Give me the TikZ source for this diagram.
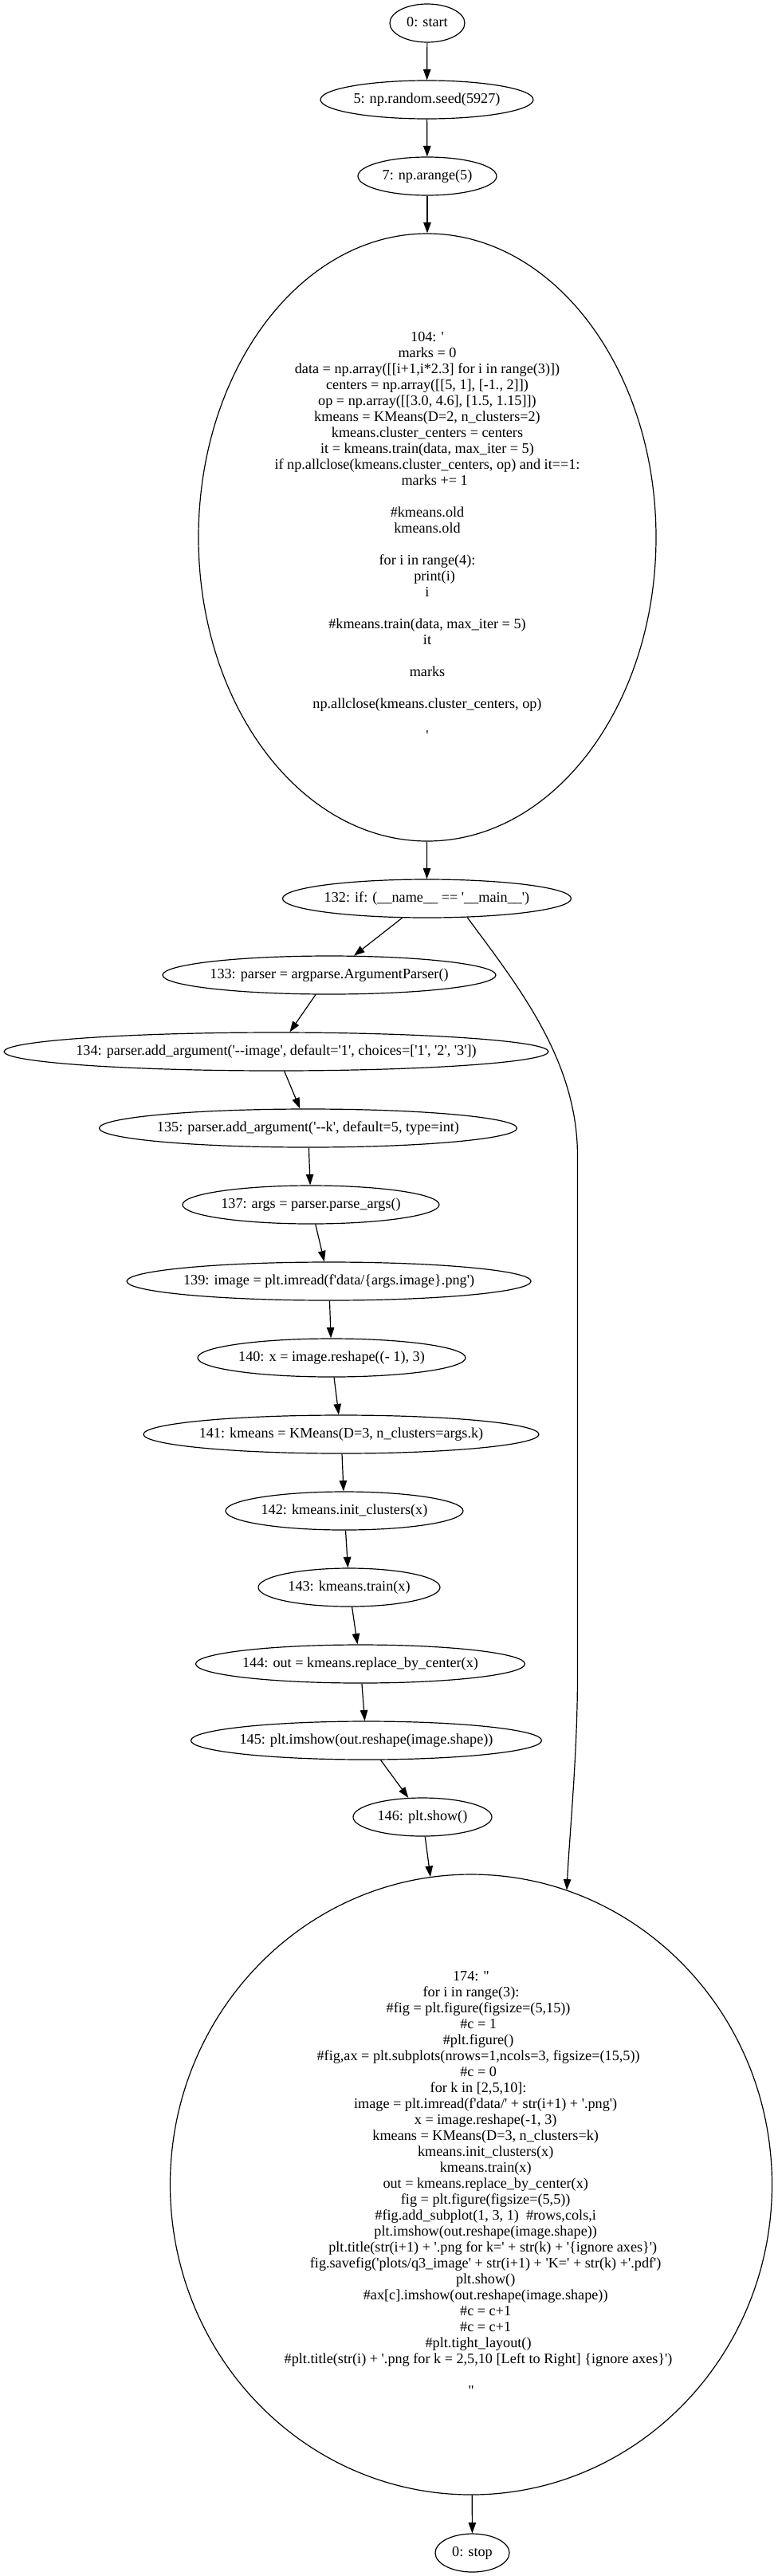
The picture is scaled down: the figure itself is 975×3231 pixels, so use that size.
\documentclass[tikz,border=0pt]{standalone}
\usepackage{fontspec}
\setmainfont{Liberation Serif}[Ligatures=TeXOff]
\usetikzlibrary{shapes.geometric,arrows.meta}
\newcommand\gvfont{\fontsize{18.2pt}{20pt}\selectfont}
\newcommand\zw[1]{\makebox[0pt]{\strut#1}}
\newcommand\sps{\hspace*{18.2pt}}
\newcommand\spsb{\hspace*{36.4pt}}
\newcommand\spsc{\hspace*{54.6pt}}
\tikzset{
  gv/.style={ellipse, draw, line width=1.2pt, inner sep=0pt, font=\gvfont, minimum height=48pt},
  gvedge/.style={line width=1.2pt, -{Triangle[length=13.5pt,width=9.5pt]}},
}
\begin{document}
\begin{tikzpicture}[x=1pt,y=-1pt]
\useasboundingbox (0,0) rectangle (975,3231);
\fill[white] (0,0) rectangle (975,3231);

\node[gv, minimum width=94pt] (start) at (536,29) {\zw{0: start}};
\node[gv, minimum width=267pt] (n5) at (535.5,125) {\zw{5: np.random.seed(5927)}};
\node[gv, minimum width=174pt] (n7) at (536,221) {\zw{7: np.arange(5)}};
\node[gv, minimum width=574pt, minimum height=762pt] (n104) at (536,674) {\begin{tabular}{@{}c@{}}
104: '\\
marks = 0\\
data = np.array([[i+1,i*2.3] for i in range(3)])\\
centers = np.array([[5, 1], [-1., 2]])\\
op = np.array([[3.0, 4.6], [1.5, 1.15]])\\
kmeans = KMeans(D=2, n\_clusters=2)\\
kmeans.cluster\_centers = centers\\
it = kmeans.train(data, max\_iter = 5)\\
if np.allclose(kmeans.cluster\_centers, op) and it==1:\\
\sps marks += 1\\
\\
\#kmeans.old\\
kmeans.old\\
\\
for i in range(4):\\
\sps print(i)\\
i\\
\\
\#kmeans.train(data, max\_iter = 5)\\
it\\
\\
marks\\
\\
np.allclose(kmeans.cluster\_centers, op)\\
\\
'
\end{tabular}};
\node[gv, minimum width=362pt] (n132) at (535.5,1127) {\zw{132: if: (\_\_name\_\_ == '\_\_main\_\_')}};
\node[gv, minimum width=418pt] (n133) at (413,1223) {\zw{133: parser = argparse.ArgumentParser()}};
\node[gv, minimum width=683pt] (n134) at (346.5,1319) {\zw{134: parser.add\_argument('--image', default='1', choices=['1', '2', '3'])}};
\node[gv, minimum width=524pt] (n135) at (386.5,1415) {\zw{135: parser.add\_argument('--k', default=5, type=int)}};
\node[gv, minimum width=322pt] (n137) at (390,1511) {\zw{137: args = parser.parse\_args()}};
\node[gv, minimum width=507pt] (n139) at (412.6,1607) {\zw{139: image = plt.imread(f'data/\{args.image\}.png')}};
\node[gv, minimum width=336pt] (n140) at (416,1703) {\zw{140: x = image.reshape((- 1), 3)}};
\node[gv, minimum width=496pt] (n141) at (428,1799) {\zw{141: kmeans = KMeans(D=3, n\_clusters=args.k)}};
\node[gv, minimum width=298pt] (n142) at (432,1895) {\zw{142: kmeans.init\_clusters(x)}};
\node[gv, minimum width=228pt] (n143) at (438,1991) {\zw{143: kmeans.train(x)}};
\node[gv, minimum width=413pt] (n144) at (452,2087) {\zw{144: out = kmeans.replace\_by\_center(x)}};
\node[gv, minimum width=440pt] (n145) at (459.5,2183) {\zw{145: plt.imshow(out.reshape(image.shape))}};
\node[gv, minimum width=174pt] (n146) at (530,2279) {\zw{146: plt.show()}};
\node[gv, minimum width=755pt, minimum height=778pt] (n174) at (591,2740) {\begin{tabular}{@{}c@{}}
174: "\\
for i in range(3):\\
\sps\#fig = plt.figure(figsize=(5,15))\\
\sps\#c = 1\\
\sps\#plt.figure()\\
\sps\#fig,ax = plt.subplots(nrows=1,ncols=3, figsize=(15,5))\\
\sps\#c = 0\\
\sps for k in [2,5,10]:\\
\spsb image = plt.imread(f'data/' + str(i+1) + '.png')\\
\spsb x = image.reshape(-1, 3)\\
\spsb kmeans = KMeans(D=3, n\_clusters=k)\\
\spsb kmeans.init\_clusters(x)\\
\spsb kmeans.train(x)\\
\spsb out = kmeans.replace\_by\_center(x)\\
\spsb fig = plt.figure(figsize=(5,5))\\
\spsb\#fig.add\_subplot(1, 3, 1)\ \ \#rows,cols,i\\
\spsb plt.imshow(out.reshape(image.shape))\\
\spsc plt.title(str(i+1) + '.png for k=' + str(k) + '\{ignore axes\}')\\
\spsb fig.savefig('plots/q3\_image' + str(i+1) + 'K=' + str(k) +'.pdf')\\
\spsb plt.show()\\
\spsb\#ax[c].imshow(out.reshape(image.shape))\\
\spsb\#c = c+1\\
\spsb\#c = c+1\\
\sps\#plt.tight\_layout()\\
\sps\#plt.title(str(i) + '.png for k = 2,5,10 [Left to Right] \{ignore axes\}')\\
\\
"
\end{tabular}};
\node[gv, minimum width=93pt] (stop) at (592.5,3202) {\zw{0: stop}};

\draw[gvedge] (start) -- (n5);
\draw[gvedge] (n5) -- (n7);
\draw[gvedge] (n7) -- (n104);
\draw[gvedge] (n104) -- (n132);
\draw[gvedge] (n132) -- (n133);
\draw[gvedge] (n133) -- (n134);
\draw[gvedge] (n134) -- (n135);
\draw[gvedge] (n135) -- (n137);
\draw[gvedge] (n137) -- (n139);
\draw[gvedge] (n139) -- (n140);
\draw[gvedge] (n140) -- (n141);
\draw[gvedge] (n141) -- (n142);
\draw[gvedge] (n142) -- (n143);
\draw[gvedge] (n143) -- (n144);
\draw[gvedge] (n144) -- (n145);
\draw[gvedge] (n145) -- (n146);
\draw[gvedge] (n146) -- (n174);
\draw[gvedge] (n132.-25) .. controls (650,1237) and (724.5,1330) .. (724.5,1450) -- (724.5,2100) .. controls (724.5,2200) and (714.5,2300) .. (n174.72.7);
\draw[gvedge] (n174) -- (stop);
\end{tikzpicture}
\end{document}
